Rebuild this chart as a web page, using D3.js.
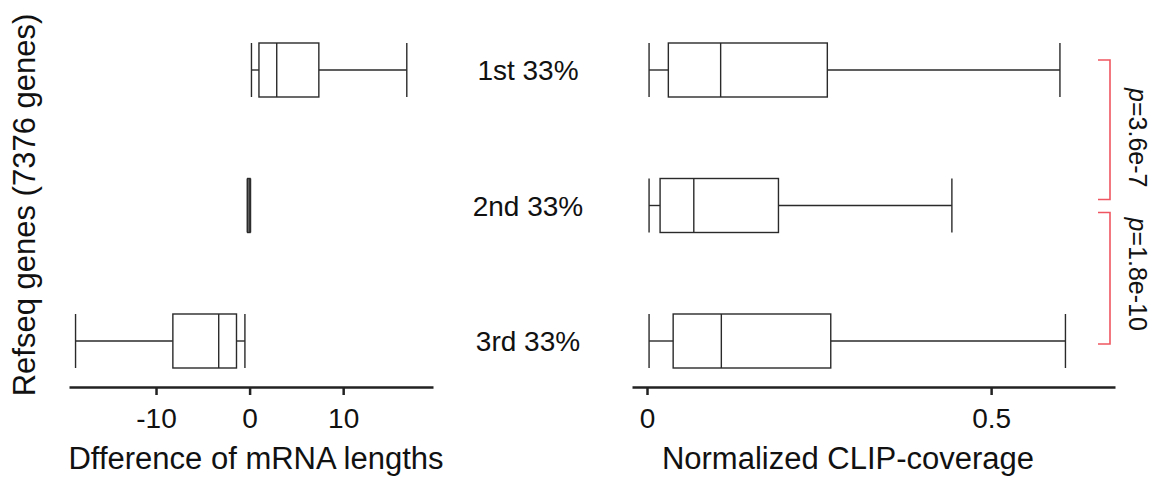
<!DOCTYPE html>
<html>
<head>
<meta charset="utf-8">
<script src="https://cdn.jsdelivr.net/npm/d3@7"></script>
<style>
  body { margin: 0; background: #fff; }
  text { font-family: "Liberation Sans", Arial, sans-serif; fill: #111; }
</style>
</head>
<body>
<svg id="chart" width="1152" height="482"></svg>
<script>
// groups, top to bottom
let groups = ['1st 33%', '2nd 33%', '3rd 33%'];

// difference of mRNA lengths: [whisker low, q1, median, q3, whisker high]
let lengthStats = [
  [0.2, 1.0, 2.9, 7.4, 16.8],
  [-0.25, -0.2, -0.05, 0.05, 0.1],
  [-18.6, -8.2, -3.3, -1.4, -0.5]
];

// normalized CLIP coverage: [whisker low, q1, median, q3, whisker high]
let clipStats = [
  [0.003, 0.031, 0.107, 0.262, 0.600],
  [0.003, 0.019, 0.068, 0.191, 0.443],
  [0.003, 0.038, 0.108, 0.267, 0.608]
];

let lengthTicks = [-10, 0, 10];
let clipTicks = [0, 0.5];

// pairwise tests between neighbouring groups
let comparisons = [
  {from: 0, to: 1, label: '3.6e-7'},
  {from: 1, to: 2, label: '1.8e-10'}
];

let svg = d3.select('#chart');
let axisY = 387;
let boxH = 54;

let y = d3.scalePoint().domain(d3.range(groups.length)).range([70, 341]);

let xLen = d3.scaleLinear().domain([-19.3, 19.6]).range([69, 433]);
let xClip = d3.scaleLinear().domain([-0.0218, 0.680]).range([632, 1115]);

function drawBoxes(stats, x) {
  let g = svg.append('g')
    .style('stroke', '#2a2a2a')
    .style('stroke-width', 1.4)
    .style('fill', 'none');

  stats.forEach((s, i) => {
    let cy = y(i);
    let top = cy - boxH / 2;
    let row = g.append('g');

    // whisker lines
    row.append('line').attr('x1', x(s[0])).attr('x2', x(s[1])).attr('y1', cy).attr('y2', cy);
    row.append('line').attr('x1', x(s[3])).attr('x2', x(s[4])).attr('y1', cy).attr('y2', cy);
    // caps
    [s[0], s[4]].forEach(v => {
      row.append('line').attr('x1', x(v)).attr('x2', x(v)).attr('y1', top).attr('y2', top + boxH);
    });
    row.append('rect')
      .attr('x', x(s[1]))
      .attr('y', top)
      .attr('width', x(s[3]) - x(s[1]))
      .attr('height', boxH)
      .style('fill', '#fff');
    row.append('line').attr('x1', x(s[2])).attr('x2', x(s[2])).attr('y1', top).attr('y2', top + boxH);
  });
}

function drawAxis(x, ticks, title, titleX) {
  let axis = d3.axisBottom(x)
    .tickValues(ticks)
    .tickSize(8)
    .tickSizeOuter(0)
    .tickFormat(d => String(d));   // plain hyphen, like the original

  let g = svg.append('g')
    .attr('transform', `translate(0,${axisY})`)
    .call(axis);

  g.select('.domain').style('stroke', '#222').style('stroke-width', 2.5);
  g.selectAll('.tick line').style('stroke', '#222').style('stroke-width', 2.5);
  g.selectAll('.tick text')
    .attr('y', 41)
    .attr('dy', 0)
    .style('font-size', '28px')
    .style('font-family', '"Liberation Sans", Arial, sans-serif')
    .style('fill', '#111');

  svg.append('text')
    .attr('x', titleX)
    .attr('y', 469)
    .attr('text-anchor', 'middle')
    .style('font-size', '31px')
    .text(title);
}

drawBoxes(lengthStats, xLen);
drawBoxes(clipStats, xClip);

drawAxis(xLen, lengthTicks, 'Dfference of mRNA lengths', 256);
drawAxis(xClip, clipTicks, 'Normalized CLIP-coverage', 848);

// group labels in the middle
svg.append('g').selectAll('text')
  .data(groups)
  .join('text')
  .attr('x', 528)
  .attr('y', (d, i) => y(i) + 10)
  .attr('text-anchor', 'middle')
  .style('font-size', '28px')
  .text(d => d);

// y title
svg.append('text')
  .attr('transform', 'translate(35,205) rotate(-90)')
  .attr('text-anchor', 'middle')
  .style('font-size', '31px')
  .text('Refseq genes (7376 genes)');

// significance brackets
let bx = 1110;
comparisons.forEach((c, i) => {
  let top = y(c.from) + (i === 0 ? -10 : 7);
  let bottom = y(c.to) + (i === 0 ? -6 : 3);

  svg.append('path')
    .attr('d', `M${bx - 12},${top}H${bx}V${bottom}H${bx - 12}`)
    .style('fill', 'none')
    .style('stroke', '#ef5560')
    .style('stroke-width', 1.6);

  let t = svg.append('text')
    .attr('transform', `translate(${bx + 19},${(top + bottom) / 2 + (i === 0 ? 8 : -4)}) rotate(90)`)
    .attr('text-anchor', 'middle')
    .style('font-size', '25px');
  t.append('tspan').style('font-style', 'italic').text('p');
  t.append('tspan').text('=' + c.label);
});
</script>
</body>
</html>
